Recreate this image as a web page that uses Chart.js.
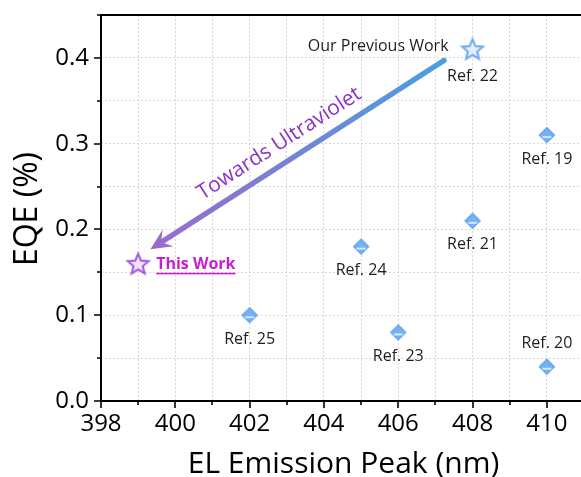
<!DOCTYPE html>
<html>
<head>
<meta charset="utf-8">
<script src="https://cdn.jsdelivr.net/npm/chart.js@4.4.1/dist/chart.umd.min.js"></script>
<style>
  html, body { margin: 0; padding: 0; background: #fff; width: 581px; height: 477px; overflow: hidden; }
  #wrap { position: absolute; left: 0; top: 0; width: 600px; height: 477px; }
</style>
</head>
<body>
<div id="wrap"><canvas id="chart" width="600" height="477"></canvas></div>
<script>
// Reported devices: EL emission peak (nm) and EQE (%)
const refNames = ['Ref. 19', 'Ref. 20', 'Ref. 21', 'Ref. 23', 'Ref. 24', 'Ref. 25'];
const refPeaks = [410, 410, 408, 406, 405, 402];
const refEqe   = [0.31, 0.04, 0.21, 0.08, 0.18, 0.10];

const prevName = 'Ref. 22';
const prevNote = 'Our Previous Work';
const prevPeak = [408];
const prevEqe  = [0.41];

const workName = 'This Work';
const workPeak = [399];
const workEqe  = [0.16];

// Arrow from the previous device toward shorter wavelengths (data units)
const arrowFrom = [407.23, 0.397];
const arrowTo   = [399.33, 0.177];
const arrowText = 'Towards Ultraviolet';
const arrowTextAt = [402.8, 0.300];

const xMajorTicks = [398, 400, 402, 404, 406, 408, 410];
const yMajorTicks = [0.0, 0.1, 0.2, 0.3, 0.4];
const xTitle = 'EL Emission Peak (nm)';
const yTitle = 'EQE (%)';

const FONT = "'Open Sans', 'DejaVu Sans', sans-serif";

// ---- marker images ----
function diamondImage(fill, stroke) {
  const c = document.createElement('canvas');
  c.width = 20; c.height = 20;
  const g = c.getContext('2d');
  const cx = 10, cy = 10, r = 7.5;
  g.beginPath();
  g.moveTo(cx, cy - r); g.lineTo(cx + r, cy); g.lineTo(cx, cy + r); g.lineTo(cx - r, cy); g.closePath();
  g.fillStyle = fill; g.fill();
  g.lineWidth = 1.2; g.strokeStyle = stroke; g.stroke();
  g.beginPath();
  g.moveTo(cx - 4.5, cy + 2); g.lineTo(cx + 4.5, cy + 2);
  g.lineWidth = 1.4; g.strokeStyle = '#ffffff'; g.stroke();
  return c;
}
function starImage(stroke, fill, R) {
  const size = Math.ceil(R * 2 + 6);
  const c = document.createElement('canvas');
  c.width = size; c.height = size;
  const g = c.getContext('2d');
  const cx = size / 2, cy = size / 2 + 0.8, r = R * 0.45;
  g.beginPath();
  for (let i = 0; i < 10; i++) {
    const rad = i % 2 === 0 ? R : r;
    const a = -Math.PI / 2 + i * Math.PI / 5;
    const px = cx + rad * Math.cos(a), py = cy + rad * Math.sin(a);
    if (i === 0) g.moveTo(px, py); else g.lineTo(px, py);
  }
  g.closePath();
  g.fillStyle = fill; g.fill();
  g.lineJoin = 'miter';
  g.lineWidth = 2; g.strokeStyle = stroke; g.stroke();
  return c;
}

const diamondImg = diamondImage('#74b2f6', '#5f9fec');
const prevStarImg = starImage('#6aa9f3', '#e6f0fd', 11);
const workStarImg = starImage('#a455e3', '#efe3fb', 11);

function pts(xs, ys) { return xs.map((x, i) => ({ x: x, y: ys[i] })); }

// ---- annotation + axis plugin ----
const decor = {
  id: 'decor',
  afterDatasetsDraw(chart) {
    const { ctx, chartArea: a, scales: { x, y } } = chart;
    ctx.save();

    // axis frame: left, bottom and top lines
    ctx.strokeStyle = '#000'; ctx.lineWidth = 2; ctx.lineCap = 'square';
    ctx.beginPath();
    ctx.moveTo(a.left, a.top); ctx.lineTo(a.right + 20, a.top);
    ctx.moveTo(a.left, a.top); ctx.lineTo(a.left, a.bottom);
    ctx.lineTo(a.right + 20, a.bottom);
    ctx.stroke();

    // tick marks (major long, minor short) pointing outward
    ctx.lineCap = 'butt'; ctx.lineWidth = 1.6;
    ctx.beginPath();
    x.ticks.forEach(t => {
      const px = Math.round(x.getPixelForValue(t.value));
      const len = xMajorTicks.includes(t.value) ? 7 : 4;
      ctx.moveTo(px, a.bottom); ctx.lineTo(px, a.bottom + len);
    });
    y.ticks.forEach(t => {
      const py = Math.round(y.getPixelForValue(t.value));
      const major = yMajorTicks.some(v => Math.abs(v - t.value) < 1e-6);
      const len = major ? 7 : 4;
      ctx.moveTo(a.left, py); ctx.lineTo(a.left - len, py);
    });
    ctx.stroke();

    // arrow with gradient from blue to purple
    const x0 = x.getPixelForValue(arrowFrom[0]), y0 = y.getPixelForValue(arrowFrom[1]);
    const x1 = x.getPixelForValue(arrowTo[0]),   y1 = y.getPixelForValue(arrowTo[1]);
    const ang = Math.atan2(y1 - y0, x1 - x0);
    const grad = ctx.createLinearGradient(x0, y0, x1, y1);
    grad.addColorStop(0, '#4b9fdf');
    grad.addColorStop(1, '#9b6bca');
    const headLen = 21, headHalf = 10;
    const bx = x1 - headLen * 0.7 * Math.cos(ang), by = y1 - headLen * 0.7 * Math.sin(ang);
    ctx.strokeStyle = grad; ctx.lineWidth = 5.5; ctx.lineCap = 'round';
    ctx.beginPath(); ctx.moveTo(x0, y0); ctx.lineTo(bx, by); ctx.stroke();
    ctx.fillStyle = '#9b6bca';
    ctx.beginPath();
    const hx = x1 - headLen * Math.cos(ang), hy = y1 - headLen * Math.sin(ang);
    ctx.moveTo(x1, y1);
    ctx.lineTo(hx + headHalf * Math.sin(ang), hy - headHalf * Math.cos(ang));
    ctx.lineTo(x1 - headLen * 0.6 * Math.cos(ang), y1 - headLen * 0.6 * Math.sin(ang));
    ctx.lineTo(hx - headHalf * Math.sin(ang), hy + headHalf * Math.cos(ang));
    ctx.closePath(); ctx.fill();

    // arrow caption along the arrow
    const tx = x.getPixelForValue(arrowTextAt[0]), ty = y.getPixelForValue(arrowTextAt[1]);
    ctx.save();
    ctx.translate(tx, ty);
    ctx.rotate(Math.atan2(y0 - y1, x0 - x1));
    ctx.fillStyle = '#8a33c6';
    ctx.font = '21px ' + FONT;
    ctx.textAlign = 'center'; ctx.textBaseline = 'middle';
    ctx.fillText(arrowText, 0, 0);
    ctx.restore();

    // reference labels
    ctx.font = '16px ' + FONT;
    ctx.fillStyle = '#1e1e1e';
    ctx.textAlign = 'center'; ctx.textBaseline = 'middle';
    refNames.forEach((n, i) => {
      const px = x.getPixelForValue(refPeaks[i]);
      const py = y.getPixelForValue(refEqe[i]);
      const dy = refEqe[i] < 0.06 ? -23 : 24;
      ctx.fillText(n, px, py + dy);
    });
    const ppx = x.getPixelForValue(prevPeak[0]), ppy = y.getPixelForValue(prevEqe[0]);
    ctx.fillText(prevName, ppx, ppy + 27);
    ctx.textAlign = 'right';
    ctx.fillText(prevNote, ppx - 24, ppy - 3);

    // highlighted label for the new device
    const wx = x.getPixelForValue(workPeak[0]), wy = y.getPixelForValue(workEqe[0]);
    ctx.font = 'bold 16px ' + FONT;
    ctx.fillStyle = '#c81ecf';
    ctx.textAlign = 'left';
    const lx = wx + 18;
    ctx.fillText(workName, lx, wy + 1);
    const w = ctx.measureText(workName).width;
    ctx.fillRect(lx, wy + 9, w, 1.6);

    // axis titles
    ctx.fillStyle = '#000';
    ctx.font = '30px ' + FONT;
    ctx.textAlign = 'center'; ctx.textBaseline = 'alphabetic';
    ctx.fillText(xTitle, (a.left + a.right) / 2 + 1, 473);
    ctx.save();
    ctx.translate(37, 209);
    ctx.rotate(-Math.PI / 2);
    ctx.font = '32px ' + FONT;
    ctx.fillText(yTitle, 0, 0);
    ctx.restore();

    ctx.restore();
  }
};

const gridCfg = { color: '#d8d8d8', lineWidth: 1, drawTicks: false };

new Chart(document.getElementById('chart'), {
  type: 'scatter',
  data: {
    datasets: [
      { label: 'Reported', data: pts(refPeaks, refEqe), pointStyle: diamondImg, pointRadius: 10, pointHoverRadius: 10 },
      { label: prevNote, data: pts(prevPeak, prevEqe), pointStyle: prevStarImg, pointRadius: 14, pointHoverRadius: 14 },
      { label: workName, data: pts(workPeak, workEqe), pointStyle: workStarImg, pointRadius: 14, pointHoverRadius: 14 }
    ]
  },
  options: {
    responsive: false,
    animation: false,
    events: [],
    layout: { padding: { top: 13, right: 16, left: 0, bottom: 0 } },
    plugins: { legend: { display: false }, tooltip: { enabled: false } },
    scales: {
      x: {
        type: 'linear', min: 398, max: 411,
        grid: gridCfg,
        border: { display: false, dash: [2, 2] },
        ticks: {
          stepSize: 1, padding: 9, color: '#000', font: { family: FONT, size: 24 },
          maxRotation: 0, autoSkip: false,
          callback: v => (xMajorTicks.includes(v) ? String(v) : '')
        },
        afterFit: s => { s.height = 76; s.paddingLeft = 0; s.paddingRight = 0; }
      },
      y: {
        type: 'linear', min: 0, max: 0.45,
        grid: gridCfg,
        border: { display: false, dash: [2, 2] },
        ticks: {
          stepSize: 0.05, padding: 12, color: '#000', font: { family: FONT, size: 24 },
          autoSkip: false,
          callback: v => {
            const m = yMajorTicks.find(t => Math.abs(t - v) < 1e-6);
            return m === undefined ? '' : m.toFixed(1);
          }
        },
        afterFit: s => { s.width = 101; s.paddingTop = 0; s.paddingBottom = 0; }
      }
    }
  },
  plugins: [decor]
});
</script>
</body>
</html>
